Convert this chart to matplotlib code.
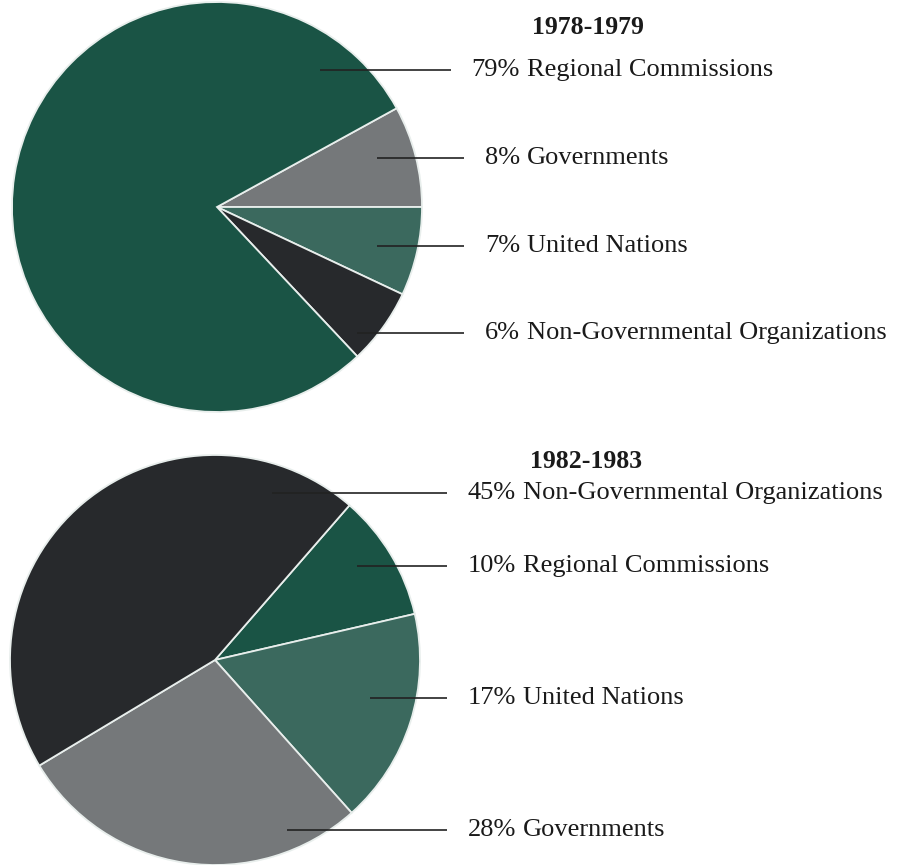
import matplotlib.pyplot as plt

# Datos de las dos graficas de pastel
periodos = ['1978-1979', '1982-1983']

categorias_1978 = ['Governments', 'United Nations', 'Non-Governmental Organizations', 'Regional Commissions']
valores_1978 = [8, 7, 6, 79]

categorias_1982 = ['Regional Commissions', 'United Nations', 'Governments', 'Non-Governmental Organizations']
valores_1982 = [10, 17, 28, 45]

colores = {
    'Regional Commissions': '#1a5445',
    'Governments': '#75787a',
    'United Nations': '#3b695e',
    'Non-Governmental Organizations': '#27292c',
}

# Orden de las etiquetas a la derecha (de arriba hacia abajo)
etiquetas_1978 = ['Regional Commissions', 'Governments', 'United Nations', 'Non-Governmental Organizations']
etiquetas_1982 = ['Non-Governmental Organizations', 'Regional Commissions', 'United Nations', 'Governments']

H = 865
fig = plt.figure(figsize=(8.99, 8.65), dpi=100)
ax = fig.add_axes([0, 0, 1, 1])
ax.axis('off')

fuente = 'Liberation Serif'


def pastel(centro, inicio, categorias, valores, etiquetas, titulo, x_titulo, y_titulo,
           x_num, ys, xs_linea):
    cx, cy = centro
    ax.pie(valores, colors=[colores[c] for c in categorias], startangle=inicio,
           counterclock=False, center=(cx, H - cy), radius=205,
           wedgeprops=dict(edgecolor='#e8eeec', linewidth=1.3))
    ax.text(x_titulo, H - y_titulo, titulo, fontsize=18.5, fontweight='bold',
            family=fuente, va='center', ha='left', color='#1a1a1a')
    # Etiquetas con lineas guia
    for cat, y, x0 in zip(etiquetas, ys, xs_linea):
        val = valores[categorias.index(cat)]
        # el numero va alineado a la derecha, la linea termina antes del numero
        x1 = x_num - len(str(val)) * 13 - 23 - 20
        ax.plot([x0, x1], [H - y, H - y], color='#222222', lw=1.2, solid_capstyle='butt')
        ax.text(x_num, H - y, f'{val}%', fontsize=19, family=fuente,
                ha='right', va='center', color='#1a1a1a')
        ax.text(x_num + 7, H - y, cat, fontsize=19, family=fuente,
                ha='left', va='center', color='#1a1a1a')


pastel((217, 207), 28.8, categorias_1978, valores_1978, etiquetas_1978,
       periodos[0], 532, 27, 520, [70, 158, 246, 333], [320, 377, 377, 357])
pastel((215, 660), 49, categorias_1982, valores_1982, etiquetas_1982,
       periodos[1], 530, 462, 516, [493, 566, 698, 830], [272, 357, 370, 287])

# pie() cambia los limites, los ponemos de nuevo al final
ax.set_xlim(0, 899)
ax.set_ylim(0, H)
ax.set_aspect('equal')
fig.savefig('out.png', dpi=100)
